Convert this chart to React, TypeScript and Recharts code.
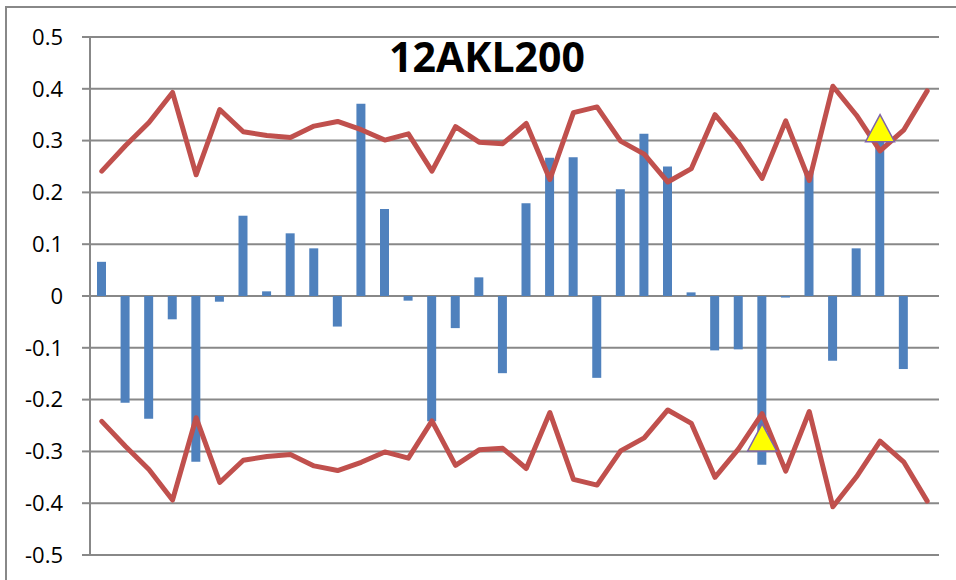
import React from "react";
import { ComposedChart, Bar, Line, XAxis, YAxis, CartesianGrid } from "recharts";

const positions = Array.from({ length: 36 }, (_, i) => `P${i + 1}`);

const deviation = [
  0.066, -0.206, -0.237, -0.045, -0.32, -0.011, 0.155, 0.009, 0.121, 0.092,
  -0.059, 0.371, 0.168, -0.009, -0.242, -0.062, 0.036, -0.149, 0.179, 0.267,
  0.268, -0.158, 0.206, 0.313, 0.25, 0.007, -0.105, -0.103, -0.326, -0.003,
  0.242, -0.125, 0.092, 0.315, -0.141, null,
];

const upperLimit = [
  0.241, 0.29, 0.335, 0.393, 0.234, 0.36, 0.317, 0.31, 0.306, 0.328,
  0.337, 0.321, 0.301, 0.313, 0.241, 0.327, 0.297, 0.294, 0.333, 0.225,
  0.354, 0.365, 0.299, 0.274, 0.22, 0.246, 0.35, 0.295, 0.227, 0.338,
  0.223, 0.405, 0.349, 0.28, 0.32, 0.396,
];

const lowerLimit = [
  -0.242, -0.29, -0.335, -0.394, -0.235, -0.36, -0.317, -0.31, -0.306, -0.328,
  -0.337, -0.321, -0.301, -0.313, -0.241, -0.327, -0.297, -0.294, -0.333, -0.225,
  -0.354, -0.365, -0.299, -0.274, -0.22, -0.246, -0.35, -0.295, -0.227, -0.338,
  -0.223, -0.407, -0.349, -0.28, -0.32, -0.396,
];

// flagged points, drawn as triangles
const flags = positions.map((_, i) => (i === 28 ? -0.273 : i === 33 ? 0.324 : null));

const yTicks = [-0.5, -0.4, -0.3, -0.2, -0.1, 0, 0.1, 0.2, 0.3, 0.4, 0.5];

const data = positions.map((name, i) => ({
  name,
  deviation: deviation[i],
  upper: upperLimit[i],
  lower: lowerLimit[i],
  flag: flags[i],
}));

const GRAY = "#888888";
const FONT = "'Open Sans', 'Liberation Sans', sans-serif";

const Triangle = (props: any) => {
  const { cx, cy, value, index } = props;
  if (value == null || cx == null || cy == null) return <g key={`t-${index}`} />;
  const w = 14.5;
  const h = 13.5;
  return (
    <polygon
      key={`t-${index}`}
      points={`${cx},${cy - h} ${cx + w},${cy + h} ${cx - w},${cy + h}`}
      fill="#FFFF00"
      stroke="#7F63A8"
      strokeWidth={1.5}
    />
  );
};

const fmt = (v: number) => (v === 0 ? "0" : String(Number(v.toFixed(1))));

export default function App() {
  return (
    <div style={{ position: "absolute", left: 0, top: 0, width: 956, height: 580, overflow: "hidden", background: "#fff" }}>
      <div
        style={{
          position: "absolute",
          left: 5,
          top: 6,
          width: 1200,
          height: 1200,
          border: `2px solid ${GRAY}`,
        }}
      />
      <ComposedChart
        width={956}
        height={580}
        data={data}
        margin={{ top: 37, right: 17, bottom: 25, left: 0 }}
        style={{ position: "absolute", left: 0, top: 0 }}
      >
        <CartesianGrid vertical={false} stroke={GRAY} strokeWidth={2} />
        <XAxis dataKey="name" hide />
        <YAxis
          domain={[-0.5, 0.5]}
          ticks={yTicks}
          width={90}
          interval={0}
          tickFormatter={fmt}
          tickSize={8}
          tickMargin={19}
          axisLine={{ stroke: GRAY, strokeWidth: 2 }}
          tickLine={{ stroke: GRAY, strokeWidth: 2 }}
          tick={{ fill: "#000", fontSize: 22, fontFamily: FONT }}
        />
        <Bar dataKey="deviation" fill="#4F81BD" barSize={9} isAnimationActive={false} />
        <Line
          dataKey="upper"
          type="linear"
          stroke="#C0504D"
          strokeWidth={5}
          strokeLinejoin="round"
          strokeLinecap="round"
          dot={false}
          activeDot={false}
          isAnimationActive={false}
        />
        <Line
          dataKey="lower"
          type="linear"
          stroke="#C0504D"
          strokeWidth={5}
          strokeLinejoin="round"
          strokeLinecap="round"
          dot={false}
          activeDot={false}
          isAnimationActive={false}
        />
        <Line
          dataKey="flag"
          stroke="none"
          dot={Triangle}
          activeDot={false}
          connectNulls={false}
          isAnimationActive={false}
        />
        <text
          x={487}
          y={72}
          textAnchor="middle"
          fontFamily={FONT}
          fontWeight="bold"
          fontSize={41}
          fill="#000"
        >
          12AKL200
        </text>
      </ComposedChart>
    </div>
  );
}
